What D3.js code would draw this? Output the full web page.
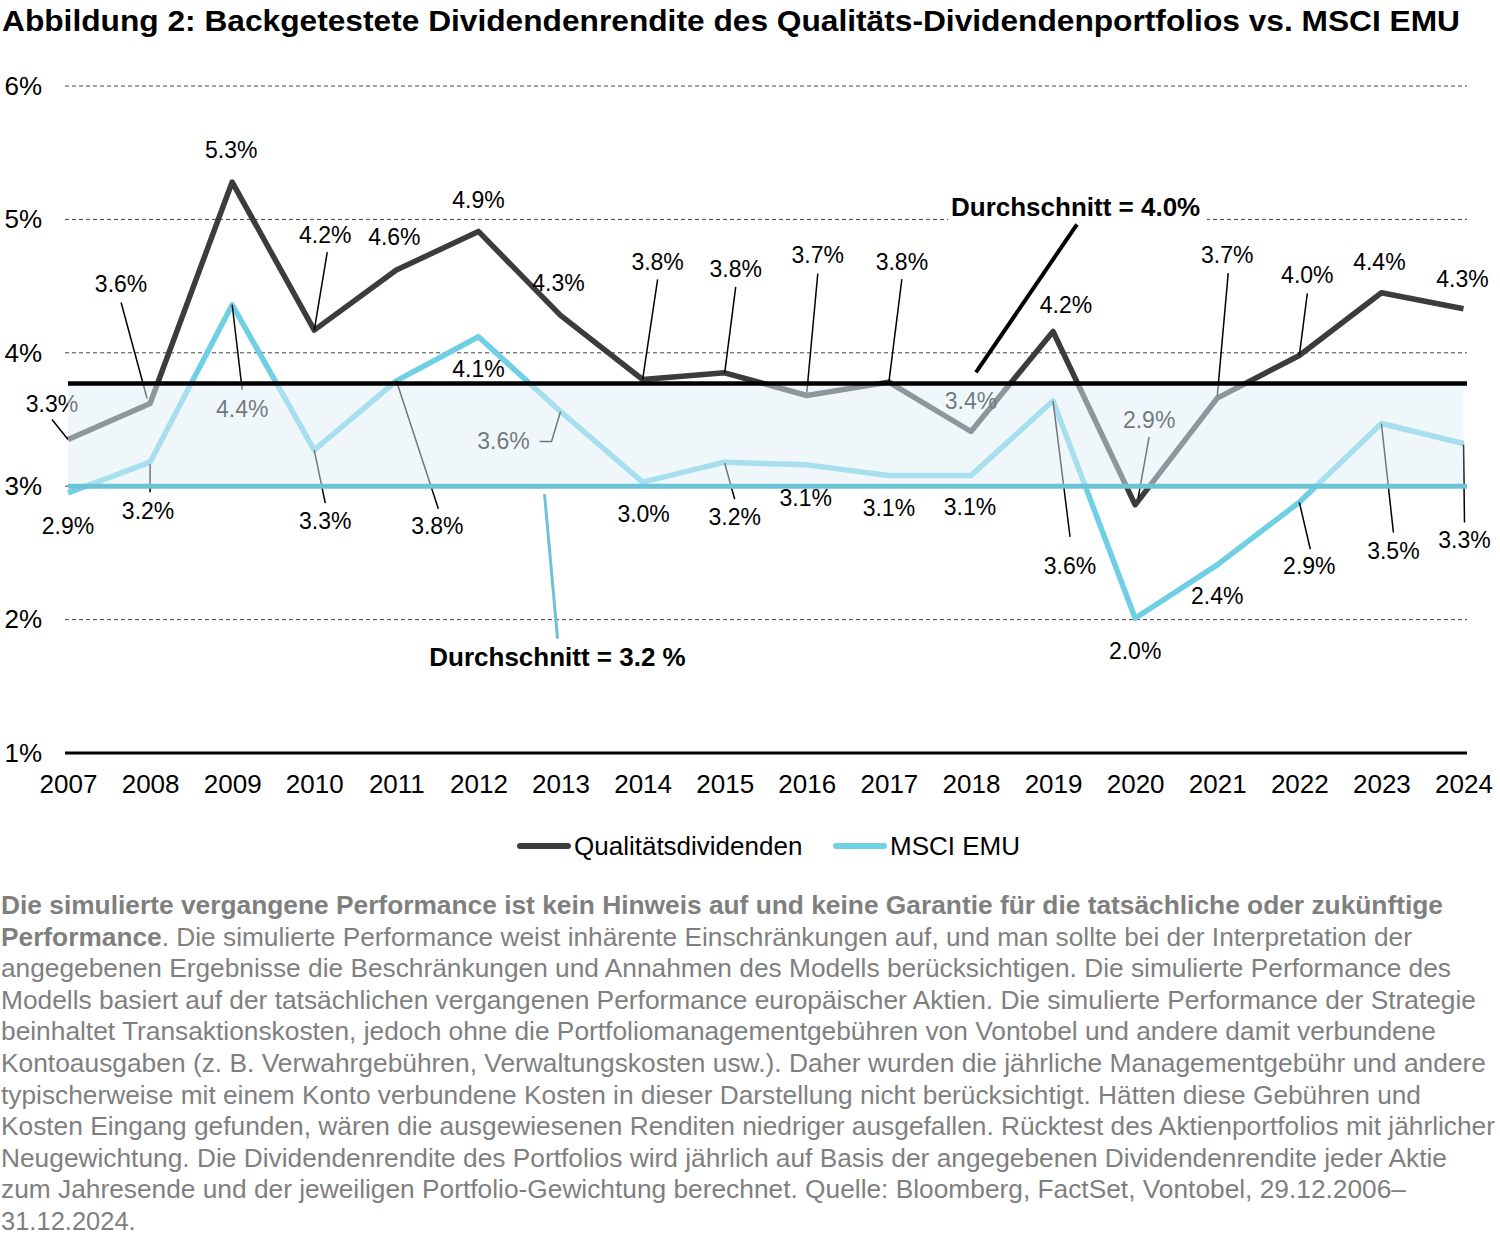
<!DOCTYPE html>
<html lang="de">
<head>
  <meta charset="UTF-8">
  <title>Backgetestete Dividendenrendite</title>
  <script src="https://d3js.org/d3.v7.min.js"></script>
  <style>
    body { margin: 0; background: #fff; }
    text { font-family: "Liberation Sans", Arial, sans-serif; }
  </style>
</head>
<body>

<svg width="1500" height="1238"></svg>

<script>
  // Data
  var years = [2007, 2008, 2009, 2010, 2011, 2012, 2013, 2014, 2015, 2016, 2017, 2018, 2019, 2020, 2021, 2022, 2023, 2024];
  var qualValues = [3.35, 3.62, 5.28, 4.17, 4.62, 4.91, 4.28, 3.80, 3.85, 3.68, 3.78, 3.41, 4.16, 2.86, 3.66, 3.98, 4.45, 4.33];
  var msciValues = [2.95, 3.18, 4.36, 3.27, 3.79, 4.12, 3.56, 3.03, 3.18, 3.16, 3.08, 3.08, 3.64, 2.01, 2.41, 2.88, 3.47, 3.32];
  var qualLabels = ["3.3%", "3.6%", "5.3%", "4.2%", "4.6%", "4.9%", "4.3%", "3.8%", "3.8%", "3.7%", "3.8%", "3.4%", "4.2%", "2.9%", "3.7%", "4.0%", "4.4%", "4.3%"];
  var msciLabels = ["2.9%", "3.2%", "4.4%", "3.3%", "3.8%", "4.1%", "3.6%", "3.0%", "3.2%", "3.1%", "3.1%", "3.1%", "3.6%", "2.0%", "2.4%", "2.9%", "3.5%", "3.3%"];
  var qualAvg = 3.77, msciAvg = 3.0;
  var qualAvgLabel = "Durchschnitt = 4.0%", msciAvgLabel = "Durchschnitt = 3.2 %";
  var yTicks = [1, 2, 3, 4, 5, 6];
  var seriesNames = ["Qualitätsdividenden", "MSCI EMU"];

  var title = "Abbildung 2: Backgetestete Dividendenrendite des Qualitäts-Dividendenportfolios vs. MSCI EMU";
  var footnote = [
    [["Die simulierte vergangene Performance ist kein Hinweis auf und keine Garantie für die tatsächliche oder zukünftige", true]],
    [["Performance", true], [". Die simulierte Performance weist inhärente Einschränkungen auf, und man sollte bei der Interpretation der", false]],
    [["angegebenen Ergebnisse die Beschränkungen und Annahmen des Modells berücksichtigen. Die simulierte Performance des", false]],
    [["Modells basiert auf der tatsächlichen vergangenen Performance europäischer Aktien. Die simulierte Performance der Strategie", false]],
    [["beinhaltet Transaktionskosten, jedoch ohne die Portfoliomanagementgebühren von Vontobel und andere damit verbundene", false]],
    [["Kontoausgaben (z. B. Verwahrgebühren, Verwaltungskosten usw.). Daher wurden die jährliche Managementgebühr und andere", false]],
    [["typischerweise mit einem Konto verbundene Kosten in dieser Darstellung nicht berücksichtigt. Hätten diese Gebühren und", false]],
    [["Kosten Eingang gefunden, wären die ausgewiesenen Renditen niedriger ausgefallen. Rücktest des Aktienportfolios mit jährlicher", false]],
    [["Neugewichtung. Die Dividendenrendite des Portfolios wird jährlich auf Basis der angegebenen Dividendenrendite jeder Aktie", false]],
    [["zum Jahresende und der jeweiligen Portfolio-Gewichtung berechnet. Quelle: Bloomberg, FactSet, Vontobel, 29.12.2006–", false]],
    [["31.12.2024.", false]]
  ];
  // line widths in the original layout (px)
  var footWidths = [1443, 1412, 1451, 1476, 1436, 1486, 1421, 1495, 1447, 1406, 0];

  // Label placement: [dx, dy] from the point, plus optional leader (offsets from the point)
  var qualPlace = [
    [-16, -28, [[-16, -20], [0, 0]]],
    [-29, -111, [[-29, -101], [-3, -5]]],
    [-1, -24, null],
    [11, -87, [[13, -78], [0, 0]]],
    [-2, -25, null],
    [0, -23, null],
    [-2, -24, null],
    [15, -109, [[15, -100], [0, 0]]],
    [11, -96, [[11, -86], [0, 0]]],
    [11, -132, [[11, -122], [0, -3]]],
    [13, -112, [[13, -103], [0, 0]]],
    [0, -23, null],
    [13, -18, null],
    [14, -77, [[14, -68], [3, -7]]],
    [10, -135, [[11, -125], [0, -2]]],
    [8, -72, [[8, -62], [0, 0]]],
    [-2, -23, null],
    [-1, -22, null]
  ];
  var msciPlace = [
    [0, 41, null],
    [-2, 57, [[0, 30], [0, 2]]],
    [10, 112, [[10, 85], [0, 0]]],
    [11, 79, [[11, 53], [0, 0]]],
    [41, 153, [[42, 128], [0, 0]]],
    [0, 40, null],
    [-57, 38, [[-21, 30], [-9, 30], [0, 0]]],
    [1, 40, null],
    [10, 63, [[10, 37], [0, 1]]],
    [-1, 41, null],
    [0, 40, null],
    [-1, 39, null],
    [17, 173, [[17, 136], [0, 0]]],
    [0, 41, null],
    [0, 39, null],
    [10, 72, [[11, 47], [0, 0]]],
    [12, 135, [[12, 109], [0, 0]]],
    [1, 104, [[1, 79], [0, 1]]]
  ];

  var qualColor = "#3b3c3c", msciColor = "#6fcfe4", avgTeal = "#6cc3d5";

  var svg = d3.select("svg");

  var x = d3.scaleLinear().domain([2007, 2024]).range([68, 1463.5]);
  var y = d3.scaleLinear().domain([1, 6]).range([753, 86]);

  // Title
  svg.append("text")
    .attr("x", 2).attr("y", 31)
    .attr("font-size", 30).attr("font-weight", "bold").attr("fill", "#000")
    .attr("textLength", 1458).attr("lengthAdjust", "spacingAndGlyphs")
    .text(title);

  // Gridlines
  svg.append("g").selectAll("line")
    .data(yTicks.filter(function(d) { return d > 1; }))
    .join("line")
      .attr("x1", 65).attr("x2", 1467)
      .attr("y1", function(d) { return y(d); })
      .attr("y2", function(d) { return y(d); })
      .attr("stroke", "#444").attr("stroke-width", 1)
      .attr("stroke-dasharray", "4,3");

  // Baseline at 1%
  svg.append("line")
    .attr("x1", 65).attr("x2", 1467)
    .attr("y1", y(1)).attr("y2", y(1))
    .attr("stroke", "#000").attr("stroke-width", 3);

  // Y axis labels
  var yAxis = svg.append("g")
    .attr("transform", "translate(65,0)")
    .call(d3.axisLeft(y).tickValues(yTicks).tickSize(0).tickPadding(23)
      .tickFormat(function(d) { return d + "%"; }));
  yAxis.select(".domain").remove();
  yAxis.selectAll("text")
    .attr("font-size", 26).attr("fill", "#000")
    .attr("font-family", "Liberation Sans, Arial, sans-serif")
    .attr("dy", "0.32em");

  // X axis labels
  var xAxis = svg.append("g")
    .attr("transform", "translate(0," + y(1) + ")")
    .call(d3.axisBottom(x).tickValues(years).tickSize(0).tickPadding(22)
      .tickFormat(d3.format("d")));
  xAxis.select(".domain").remove();
  xAxis.selectAll("text")
    .attr("font-size", 26).attr("fill", "#000")
    .attr("font-family", "Liberation Sans, Arial, sans-serif");

  // Lines
  var line = d3.line()
    .x(function(d, i) { return x(years[i]); })
    .y(function(d) { return y(d); });

  svg.append("path").datum(msciValues)
    .attr("d", line).attr("fill", "none")
    .attr("stroke", msciColor).attr("stroke-width", 5.5)
    .attr("stroke-linejoin", "round");

  svg.append("path").datum(qualValues)
    .attr("d", line).attr("fill", "none")
    .attr("stroke", qualColor).attr("stroke-width", 5.5)
    .attr("stroke-linejoin", "round");

  // Data labels and leader lines
  function drawLabels(values, labels, place) {
    var g = svg.append("g");
    values.forEach(function(v, i) {
      var px = x(years[i]), py = y(v), p = place[i];
      if (p[2]) {
        g.append("polyline")
          .attr("points", p[2].map(function(o) { return (px + o[0]) + "," + (py + o[1]); }).join(" "))
          .attr("fill", "none").attr("stroke", "#000").attr("stroke-width", 1.5);
      }
      g.append("text")
        .attr("x", px + p[0]).attr("y", py + p[1])
        .attr("text-anchor", "middle")
        .attr("font-size", 23).attr("fill", "#000")
        .text(labels[i]);
    });
  }
  drawLabels(qualValues, qualLabels, qualPlace);
  drawLabels(msciValues, msciLabels, msciPlace);

  // Band between the two averages (drawn over the lines, semi-transparent)
  svg.append("rect")
    .attr("x", x(2007)).attr("width", x(2024) - x(2007))
    .attr("y", y(qualAvg)).attr("height", y(msciAvg) - y(qualAvg))
    .attr("fill", "rgb(224,240,247)").attr("opacity", 0.5);

  // Average lines
  svg.append("line")
    .attr("x1", x(2007)).attr("x2", 1467)
    .attr("y1", y(msciAvg)).attr("y2", y(msciAvg))
    .attr("stroke", avgTeal).attr("stroke-width", 5);

  svg.append("line")
    .attr("x1", x(2007)).attr("x2", 1467)
    .attr("y1", y(qualAvg)).attr("y2", y(qualAvg))
    .attr("stroke", "#000").attr("stroke-width", 4.5);

  // Average annotations
  var qAvgX = x(2018) - 20, qAvgY = y(5) - 3;
  svg.append("rect")
    .attr("x", qAvgX - 3).attr("y", qAvgY - 22)
    .attr("width", 259).attr("height", 30).attr("fill", "#fff");
  svg.append("text")
    .attr("x", qAvgX).attr("y", qAvgY)
    .attr("font-size", 26).attr("font-weight", "bold").attr("fill", "#000")
    .text(qualAvgLabel);
  svg.append("line")
    .attr("x1", qAvgX + 126).attr("y1", qAvgY + 8)
    .attr("x2", x(2018) + 5).attr("y2", y(qualAvg) - 11)
    .attr("stroke", "#000").attr("stroke-width", 4);

  var mAvgX = x(2013) - 3, mAvgY = y(2) + 46;
  svg.append("line")
    .attr("x1", mAvgX - 13).attr("y1", y(msciAvg) + 8)
    .attr("x2", mAvgX).attr("y2", mAvgY - 27)
    .attr("stroke", avgTeal).attr("stroke-width", 3);
  svg.append("text")
    .attr("x", mAvgX).attr("y", mAvgY)
    .attr("text-anchor", "middle")
    .attr("font-size", 26).attr("font-weight", "bold").attr("fill", "#000")
    .text(msciAvgLabel);

  // Legend
  var legend = svg.append("g").attr("transform", "translate(0,846)");
  var legendItems = [
    { name: seriesNames[0], color: qualColor, x: 517 },
    { name: seriesNames[1], color: msciColor, x: 833 }
  ];
  legendItems.forEach(function(d) {
    legend.append("line")
      .attr("x1", d.x + 3).attr("x2", d.x + 51)
      .attr("stroke", d.color).attr("stroke-width", 6)
      .attr("stroke-linecap", "round");
    legend.append("text")
      .attr("x", d.x + 57).attr("y", 9)
      .attr("font-size", 26).attr("fill", "#000")
      .text(d.name);
  });

  // Footnote
  var foot = svg.append("g");
  footnote.forEach(function(parts, i) {
    var t = foot.append("text")
      .attr("x", 1).attr("y", 914 + i * 31.6)
      .attr("font-size", 25.5).attr("fill", "#7f7f7f");
    parts.forEach(function(p) {
      t.append("tspan").attr("font-weight", p[1] ? "bold" : "normal").text(p[0]);
    });
    if (footWidths[i] > 0) {
      t.attr("textLength", footWidths[i] - 1).attr("lengthAdjust", "spacingAndGlyphs");
    }
  });
</script>

</body>
</html>
